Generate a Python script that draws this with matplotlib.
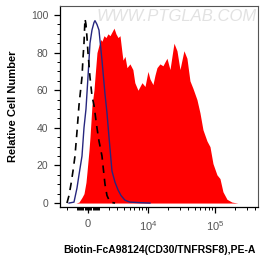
import numpy as np
import matplotlib
matplotlib.use("Agg")
import matplotlib.pyplot as plt
from matplotlib.ticker import FixedLocator, FixedFormatter

plt.rcParams['font.family'] = ['Liberation Sans', 'DejaVu Sans']
plt.rcParams['mathtext.default'] = 'regular'

# sample (red, filled)
red_x = [-1077, -798, -527, -350, -175, -87, 87, 175, 350, 527, 617, 798, 983,
         1174, 1270, 1469, 1674, 1888, 2112, 2343, 2590, 2839, 3116, 3397, 3697,
         3852, 4175, 4518, 5069, 5669, 6101, 6859, 7378, 7936, 8845, 9826, 10545,
         11714, 12578, 13493, 14966, 16618, 17787, 19108, 21217, 22717, 24343,
         27011, 29958, 32067, 34354, 38089, 42257, 46856, 53768, 59637, 66117,
         75900, 84158, 93280, 106976, 118665, 131497, 150935, 179140, 220051]
red_y = [0, 0.5, 3, 5, 11, 16.5, 28, 35, 52, 60, 67, 80, 84,
         87, 86, 89, 88, 90, 89, 91, 93, 90, 88, 89, 80,
         76, 78, 72, 74, 71, 64, 60, 62, 64, 62, 70, 66,
         63, 68, 72, 74, 73, 75, 77, 71, 78, 85,
         81, 71, 76, 81, 77, 65, 61, 55, 48, 39,
         33, 30, 21, 15, 13, 6, 2, 0.5, 0]

# second sample (navy line)
blue_x = [-1779, -1469, -1270, -983, -798, -527, -350, -175, 0, 175, 350, 527,
          617, 798, 983, 1270, 1571, 1779, 2000, 2343, 2721, 3116, 3547, 4175,
          5069, 7378, 10545]
blue_y = [0, 0.3, 0.5, 8, 15, 25, 40, 50, 67, 85, 92, 96,
          97, 95, 92, 76, 58, 48, 35, 17, 11, 7, 4, 1.5,
          0.5, 0.2, 0]

# control (black dashed)
ctrl_x = [-2000, -1779, -1571, -1369, -1174, -983, -798, -617, -527, -439, -350,
          -262, -175, -87, 0, 175, 350, 527, 798, 983, 1270, 1469, 1571, 1779,
          2112, 2721]
ctrl_y = [0, 4, 10, 17, 25, 38, 52, 62, 67, 77, 85,
          98, 95, 88, 80, 67, 57, 52, 40, 33, 25, 15, 10, 4,
          0.5, 0]

C = 2541.0


def fwd(x):
    return np.arcsinh(np.asarray(x) / C) / np.log(10)


def inv(y):
    return C * np.sinh(np.asarray(y) * np.log(10))


fig = plt.figure(figsize=(2.63, 2.62), dpi=100)
ax = fig.add_axes([60 / 263, 1 - 207 / 262, 198 / 263, 201 / 262])
ax.set_xscale('function', functions=(fwd, inv))

ax.fill_between(red_x, red_y, 0, color='#ff0000', lw=0, zorder=1)
ax.plot(blue_x, blue_y, color='#26267f', lw=1.0, zorder=2)
ax.plot(ctrl_x, ctrl_y, color='black', lw=1.2, ls=(0, (4.5, 3.5)), zorder=3)

ax.set_xlim(-2839, 438600)
ax.set_ylim(-2.1, 104.8)

ax.xaxis.set_major_locator(FixedLocator([0, 1e4, 1e5]))
ax.xaxis.set_major_formatter(FixedFormatter(['0', '$10^4$', '$10^5$']))
minors = [-2000, -1000] + list(range(-900, 0, 100)) + list(range(100, 1000, 100)) \
    + list(range(1000, 10000, 1000)) + list(range(20000, 100000, 10000)) \
    + [200000, 300000, 400000]
ax.xaxis.set_minor_locator(FixedLocator(minors))

ax.set_yticks([0, 20, 40, 60, 80, 100])
ax.set_yticks(np.arange(0, 101, 5), minor=True)

ax.tick_params(axis='both', which='major', direction='out', length=4.5, width=0.9,
               labelsize=7.5, labelcolor='#555555', color='black', pad=4)
ax.tick_params(axis='both', which='minor', direction='out', length=2.2, width=0.7,
               color='black')
ax.tick_params(axis='x', which='major', pad=4, labelsize=8)

for s in ['left', 'bottom']:
    ax.spines[s].set_color('black')
    ax.spines[s].set_linewidth(0.9)
for s in ['top', 'right']:
    ax.spines[s].set_color('#555555')
    ax.spines[s].set_linewidth(0.8)

ax.set_ylabel('Relative Cell Number', fontsize=8, fontweight='bold', labelpad=9)
ax.set_xlabel('Biotin-FcA98124(CD30/TNFRSF8),PE-A', fontsize=7.5, fontweight='bold',
              labelpad=9)

ax.text(0.995, 0.985, 'WWW.PTGLAB.COM', transform=ax.transAxes, ha='right', va='top',
        fontsize=12, style='italic', color='#e2e2e2', zorder=0)

fig.savefig('out.png', dpi=100)
